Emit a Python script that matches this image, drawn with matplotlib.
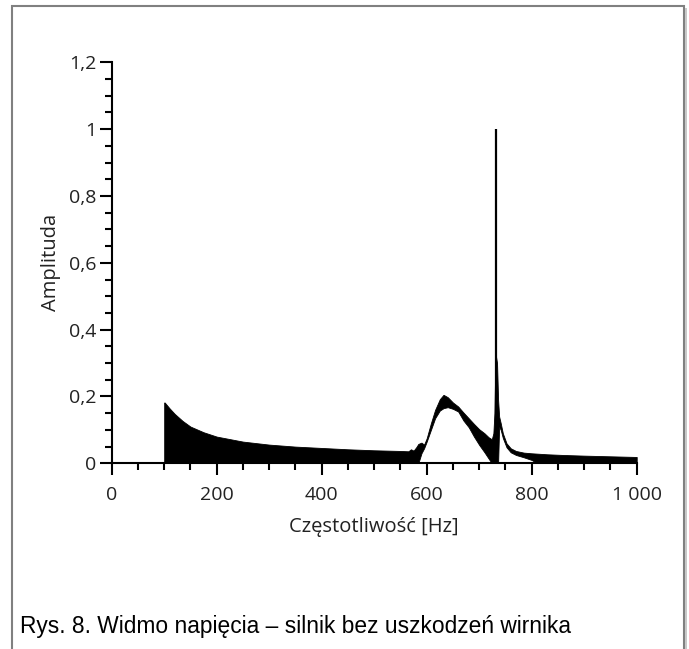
import matplotlib
matplotlib.use("Agg")
import matplotlib.pyplot as plt
from matplotlib.patches import Rectangle
from matplotlib.ticker import FixedLocator, MultipleLocator

# envelope of the voltage spectrum
freq = [100, 101, 110, 120, 135, 150, 175, 200, 250, 300, 350, 400, 450, 500,
        550, 565, 570, 575, 580, 584, 590, 595, 600, 608, 616, 625, 632, 640,
        650, 660, 670, 680, 690, 700, 710, 718, 724, 727, 729, 731, 734, 736,
        738, 741, 745, 752, 760, 770, 785, 800, 810, 830, 860, 900, 950, 1000]
amp_upper = [0.182, 0.182, 0.165, 0.148, 0.127, 0.110, 0.093, 0.080, 0.065, 0.056,
             0.050, 0.046, 0.042, 0.039, 0.037, 0.036, 0.042, 0.038, 0.048, 0.058,
             0.062, 0.056, 0.075, 0.120, 0.160, 0.192, 0.205, 0.198, 0.182, 0.170,
             0.152, 0.135, 0.118, 0.102, 0.090, 0.078, 0.072, 0.090, 0.150, 0.330,
             0.300, 0.190, 0.140, 0.120, 0.090, 0.060, 0.045, 0.037, 0.032, 0.030,
             0.029, 0.027, 0.025, 0.023, 0.021, 0.019]
amp_lower = [0.0, 0.0, 0.0, 0.0, 0.0, 0.0, 0.0, 0.0, 0.0, 0.0,
             0.0, 0.0, 0.0, 0.0, 0.0, 0.0, 0.0, 0.0, 0.0, 0.0,
             0.030, 0.045, 0.065, 0.100, 0.135, 0.158, 0.165, 0.168, 0.163, 0.155,
             0.128, 0.108, 0.080, 0.055, 0.033, 0.014, 0.0, 0.0, 0.0, 0.0,
             0.0, 0.0, 0.110, 0.100, 0.076, 0.048, 0.033, 0.025, 0.018, 0.010,
             0.0, 0.0, 0.0, 0.0, 0.0, 0.0]
peak_freq = 732
peak_amp = 1.0

x_ticks = [0, 200, 400, 600, 800, 1000]
x_labels = ["0", "200", "400", "600", "800", "1 000"]
y_ticks = [0, 0.2, 0.4, 0.6, 0.8, 1.0, 1.2]
y_labels = ["0", "0,2", "0,4", "0,6", "0,8", "1", "1,2"]

fig = plt.figure(figsize=(6.89, 6.49), dpi=100)
ax = fig.add_axes([0.1621, 0.2861, 0.762, 0.6179])

ax.fill_between(freq, amp_lower, amp_upper, color="black", lw=0.6)
ax.vlines(peak_freq, 0, peak_amp, color="black", lw=1.6)

ax.set_xlim(0, 1000)
ax.set_ylim(0, 1.2)
ax.xaxis.set_major_locator(FixedLocator(x_ticks))
ax.yaxis.set_major_locator(FixedLocator(y_ticks))
ax.xaxis.set_minor_locator(MultipleLocator(50))
ax.yaxis.set_minor_locator(MultipleLocator(0.05))
ax.set_xticklabels(x_labels)
ax.set_yticklabels(y_labels)

for s in ["top", "right"]:
    ax.spines[s].set_visible(False)
for s in ["left", "bottom"]:
    ax.spines[s].set_linewidth(1.5)
ax.tick_params(which="major", length=8.5, width=1.5, direction="out",
               labelsize=14, labelcolor="#222222")
ax.tick_params(which="minor", length=4.7, width=1.5, direction="out")
ax.tick_params(axis="x", which="major", pad=8)
ax.tick_params(axis="y", which="major", pad=2.5)
for lab in ax.get_xticklabels() + ax.get_yticklabels():
    lab.set_fontfamily("Open Sans")

ax.set_xlabel("Częstotliwość [Hz]", fontsize=14.5, family="Open Sans",
              color="#222222")
ax.set_ylabel("Amplituda", fontsize=14.5, family="Open Sans",
              color="#222222")
ax.xaxis.set_label_coords(0.5, -(527 - 463.3) / 401, transform=ax.transAxes)
ax.yaxis.set_label_coords(-(111.7 - 51) / 525, 0.5, transform=ax.transAxes)
ax.xaxis.label.set_va("center")
ax.yaxis.label.set_va("center")

# frame round the whole figure
fig.patches.append(Rectangle((12 / 689, -0.05), 672 / 689, 1.05 - 6 / 649,
                             transform=fig.transFigure, fill=False,
                             edgecolor="#808080", lw=1.5))
fig.patches.append(Rectangle((685 / 689, -0.05), 2 / 689, 1.05 - 8 / 649,
                             transform=fig.transFigure, fill=True,
                             facecolor="#c8c8c8", edgecolor="none"))

fig.text(20 / 689, 1 - 633 / 649, "Rys. 8. Widmo napięcia – silnik bez uszkodzeń wirnika",
         fontsize=16.4, family="Liberation Sans", va="baseline", ha="left")

fig.savefig("out.png", dpi=100)
